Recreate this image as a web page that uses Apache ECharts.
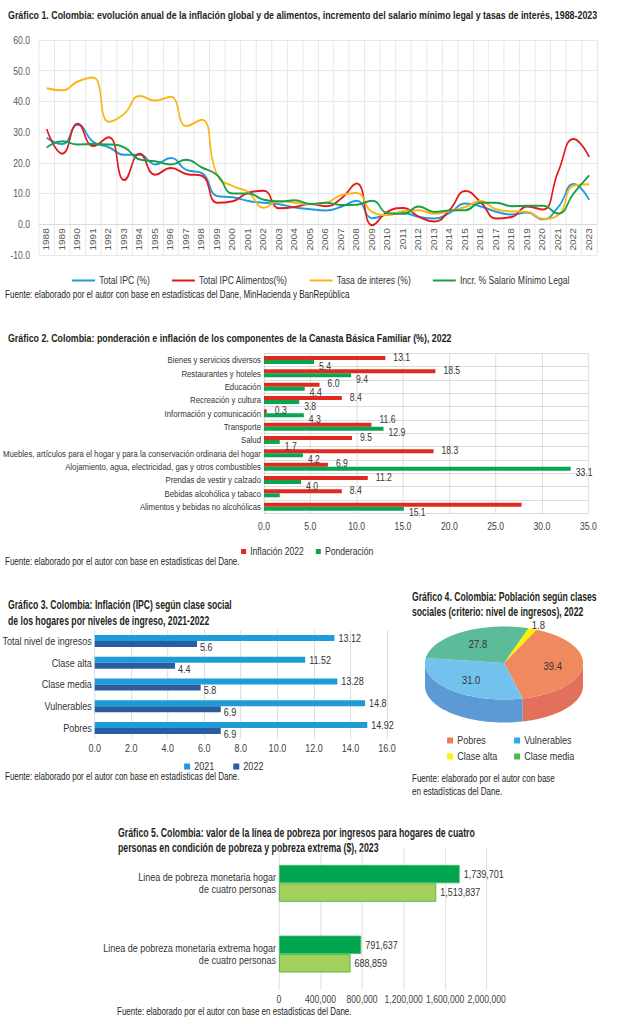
<!DOCTYPE html>
<html><head><meta charset="utf-8">
<script src="https://cdn.jsdelivr.net/npm/echarts@6.0.0/dist/echarts.min.js"></script>
<style>
html,body{margin:0;padding:0;background:#fff;overflow:hidden}
#wrap{width:617px;height:1024px;overflow:hidden;position:relative}
#c{height:1024px;transform-origin:0 0;position:absolute;left:0;top:0}
</style>
</head><body><div id="wrap"><div id="c"></div></div>
<script>
// Horizontal condensation (the reference uses a condensed typeface)
const S = 0.82;
const X = v => v / S;
const FONT = "'Liberation Sans', Arial, sans-serif";

// ---------- Gráfico 1 ----------
const years = ['1988','1989','1990','1991','1992','1993','1994','1995','1996','1997','1998','1999','2000','2001','2002','2003','2004','2005','2006','2007','2008','2009','2010','2011','2012','2013','2014','2015','2016','2017','2018','2019','2020','2021','2022','2023'];
const ipcTotal      = [28.1,26.1,32.4,26.8,25.1,22.6,22.6,19.5,21.6,17.7,16.7,9.2,8.8,7.6,7.0,6.5,5.5,4.9,4.5,5.7,7.7,2.0,3.2,3.7,2.4,1.9,3.7,6.8,5.8,4.1,3.2,3.8,1.6,5.6,13.1,7.9];
const ipcAlimentos  = [31.0,23.0,32.7,25.5,28.3,14.4,23.0,16.1,18.3,16.4,15.8,7.0,7.5,10.3,10.9,5.2,5.6,6.6,5.9,8.4,13.3,-0.3,4.1,5.3,2.5,0.9,4.7,10.8,7.2,1.9,2.4,5.8,4.8,17.2,27.8,21.9];
const tasaInteres   = [44.3,43.6,46.5,47.8,33.4,36.0,41.8,40.3,41.5,32.0,34.0,16.0,12.4,10.5,5.4,7.6,7.0,6.5,7.0,9.5,10.2,4.0,3.0,4.3,4.6,3.4,4.3,5.6,7.6,4.9,4.2,4.1,1.8,3.0,12.6,13.0];
const salarioMinimo = [25.0,27.0,26.0,26.1,26.0,25.0,21.1,20.5,19.5,21.0,18.5,16.0,10.0,10.0,8.0,7.4,7.8,6.6,7.0,6.3,6.4,7.7,3.6,3.4,5.8,4.0,4.5,4.6,7.0,7.0,5.9,6.0,6.0,3.5,10.1,16.0];
const yMin1 = -10, yMax1 = 60;

// ---------- Gráfico 2 ----------
const cats2 = ['Bienes y servicios diversos','Restaurantes y hoteles','Educación','Recreación y cultura','Información y comunicación','Transporte','Salud','Muebles, artículos para el hogar y para la conservación ordinaria del hogar','Alojamiento, agua, electricidad, gas y otros combustibles','Prendas de vestir y calzado','Bebidas alcohólica y tabaco','Alimentos y bebidas no alcohólicas'];
const inflacion2022 = [13.1,18.5,6.0,8.4,0.3,11.6,9.5,18.3,6.9,11.2,8.4,27.8];
const ponderacion   = [5.4,9.4,4.4,3.8,4.3,12.9,1.7,4.2,33.1,4.0,1.7,15.1];
const sinEtiquetaInfl = ['Alimentos y bebidas no alcohólicas'];
const sinEtiquetaPond = ['Bebidas alcohólica y tabaco'];
const etiquetaArriba  = ['Transporte'];

// ---------- Gráfico 3 ----------
const cats3 = ['Total nivel de ingresos','Clase alta','Clase media','Vulnerables','Pobres'];
const ipc2021 = [13.12,11.52,13.28,14.8,14.92];
const ipc2022 = [5.6,4.4,5.8,6.9,6.9];

// ---------- Gráfico 4 ----------
const clases    = ['Pobres','Vulnerables','Clase alta','Clase media'];
const poblacion = [39.4,31.0,1.8,27.8];
const ordenTorta = ['Clase alta','Pobres','Vulnerables','Clase media'];

// ---------- Gráfico 5 ----------
const cats5 = ['Linea de pobreza monetaria hogar\nde cuatro personas','Linea de pobreza monetaria extrema hogar\nde cuatro personas'];
const lineaA = [1739701, 791637];
const lineaB = [1513837, 688859];

// ---------- styles ----------
const C1 = {ipc:'#1E9BDC', alim:'#E3191F', tasa:'#FDB515', sal:'#1A9F48'};
const C2 = {infl:'#E02A20', pond:'#0AA551'};
const C3 = {a:'#1F9CD8', b:'#2A5CA0'};
const PIE = {cx:X(504), cy:663, rx:X(79), ry:36.5, depth:23, start:-72};
const pieStyle = {
  'Pobres':      {top:'#EF8A5E', side:'#E3705A', legend:'#EE7D4F'},
  'Vulnerables': {top:'#73C2EE', side:'#5B9AD4', legend:'#2AABE2'},
  'Clase alta':  {top:'#FFF200', side:'#E6D800', legend:'#FFF200'},
  'Clase media': {top:'#5CBC9A', side:'#2CA489', legend:'#4DB848'}
};
const C5 = {a:'#00A551', aB:'#4DBA5C', b:'#A5CF5C', bB:'#4DB848'};
const AX = '#404040', GRID = '#d9d9d9', TXT = '#231F20';

const el = document.getElementById('c');
el.style.width = X(617) + 'px';
el.style.transform = 'scaleX(' + S + ')';

const G1 = {top:40, height:215};
const pieTotal = poblacion.reduce((a,b)=>a+b,0);
const pieData = ordenTorta.map(n => ({name:n, value: poblacion[clases.indexOf(n)]}));
const cumStart = []; (function(){let acc=0; pieData.forEach(d=>{cumStart.push(acc); acc+=d.value;});})();
function ept(a, dy, k){ const r=a*Math.PI/180; k=k||1; return [PIE.cx+k*PIE.rx*Math.cos(r), PIE.cy+k*PIE.ry*Math.sin(r)+(dy||0)]; }
function earc(a0,a1,dy){ const pts=[]; const n=Math.max(2,Math.ceil(Math.abs(a1-a0))); for(let j=0;j<=n;j++) pts.push(ept(a0+(a1-a0)*j/n,dy)); return pts; }

const mctx = document.createElement('canvas').getContext('2d');
function measure(t,size,weight){ mctx.font = (weight||'normal')+' '+size+'px '+FONT; return mctx.measureText(t).width; }
function txt(x,y,t,size,weight,targetW,scaleRef){
  let sc = 1;
  if (targetW) sc = X(targetW) / measure(scaleRef||t, size, weight);
  return {type:'text', x:X(x), y:y, scaleX:sc, style:{text:t, fill:TXT, fontSize:size, fontWeight:weight||'normal', fontFamily:FONT, verticalAlign:'middle', align:'left'}};
}
const lineSeries = (name, data, color) => ({type:'line', name, data, xAxisIndex:0, yAxisIndex:0, smooth:true, symbol:'none', lineStyle:{width:2, color}, itemStyle:{color}});
const lt = size => ({fontSize:size, color:'#333', fontFamily:FONT});

const s4a = 'Fuente: elaborado por el autor con base';
const option = {
  animation:false,
  textStyle:{fontFamily:FONT},
  graphic:[
    txt(8,15,'Gráfico 1. Colombia: evolución anual de la inflación global y de alimentos, incremento del salario mínimo legal y tasas de interés, 1988-2023',11.5,'bold',590),
    txt(5,295,'Fuente: elaborado por el autor con base en estadísticas del Dane, MinHacienda y BanRepública',10,'normal',345),
    txt(8,338,'Gráfico 2. Colombia: ponderación e inflación de los componentes de la Canasta Básica Familiar (%), 2022',11.5,'bold',444),
    txt(5,562,'Fuente: elaborado por el autor con base en estadísticas del Dane.',10,'normal',235),
    txt(8,604,'Gráfico 3. Colombia: Inflación (IPC) según clase social',12.5,'bold',224),
    txt(8,620,'de los hogares por niveles de ingreso, 2021-2022',12.5,'bold',224,'Gráfico 3. Colombia: Inflación (IPC) según clase social'),
    txt(5,777,'Fuente: elaborado por el autor con base en estadísticas del Dane.',10,'normal',235),
    txt(412,597,'Gráfico 4. Colombia: Población según clases',12,'bold',185),
    txt(412,612,'sociales (criterio: nivel de ingresos), 2022',12,'bold',185,'Gráfico 4. Colombia: Población según clases'),
    txt(412,779,s4a,10,'normal',143),
    txt(412,792,'en estadísticas del Dane.',10,'normal',143,s4a),
    txt(118,832,'Gráfico 5. Colombia: valor de la línea de pobreza por ingresos para hogares de cuatro',12,'bold',357),
    txt(118,847,'personas en condición de pobreza y pobreza extrema ($), 2023',12,'bold',357,'Gráfico 5. Colombia: valor de la línea de pobreza por ingresos para hogares de cuatro'),
    txt(117,1012,'Fuente: elaborado por el autor con base en estadísticas del Dane.',10,'normal',235)
  ],
  grid:[
    {left:X(39), top:G1.top, width:X(558), height:G1.height},
    {left:X(259.5), top:353.3, width:X(328.8), height:160},
    {left:X(88), top:630, width:X(299), height:109},
    {left:X(279), top:848, width:X(207.7), height:141.4}
  ],
  legend:[
    {left:X(68), top:270, icon:'rect', itemWidth:X(23), itemHeight:2, itemGap:X(22), data:['Total IPC (%)','Total IPC Alimentos(%)','Tasa de interes (%)','Incr. % Salario Mínimo Legal'], textStyle:lt(10.5)},
    {left:X(237), top:541, icon:'rect', itemWidth:X(5), itemHeight:5, itemGap:X(12), data:['Inflación 2022','Ponderación'], textStyle:lt(10.5)},
    {left:X(180), top:756, icon:'rect', itemWidth:X(6), itemHeight:6, itemGap:X(19), data:['2021','2022'], textStyle:lt(11)},
    {left:X(443), top:730, icon:'rect', itemWidth:X(6), itemHeight:6, data:['Pobres'], textStyle:lt(11)},
    {left:X(510), top:730, icon:'rect', itemWidth:X(6), itemHeight:6, data:['Vulnerables'], textStyle:lt(11)},
    {left:X(443), top:746, icon:'rect', itemWidth:X(6), itemHeight:6, data:['Clase alta'], textStyle:lt(11)},
    {left:X(510), top:746, icon:'rect', itemWidth:X(6), itemHeight:6, data:['Clase media'], textStyle:lt(11)}
  ],
  xAxis:[
    {type:'category', gridIndex:0, data:years, boundaryGap:true,
     // axis drawn at the zero value (as in the reference)
     offset: -G1.height * (0 - yMin1) / (yMax1 - yMin1),
     axisLine:{onZero:false, lineStyle:{color:GRID}}, axisTick:{show:false},
     axisLabel:{rotate:90, interval:0, fontSize:10, color:'#595959', margin:4, fontFamily:FONT},
     splitLine:{show:true, interval:0, lineStyle:{color:'#e6e6e6'}}},
    {type:'value', gridIndex:1, min:0, max:35, interval:5,
     axisLine:{show:false}, axisTick:{show:false},
     axisLabel:{fontSize:10.5, color:AX, margin:7, formatter:v=>v.toFixed(1), fontFamily:FONT, showMaxLabel:true},
     splitLine:{lineStyle:{color:GRID}}},
    {type:'value', gridIndex:2, min:0, max:16, interval:2,
     axisLine:{show:false}, axisTick:{show:false},
     axisLabel:{fontSize:11, color:AX, margin:4, formatter:v=>v.toFixed(1), fontFamily:FONT, showMaxLabel:true},
     splitLine:{lineStyle:{color:GRID}}},
    {type:'value', gridIndex:3, min:0, max:2000000, interval:400000,
     axisLine:{show:false}, axisTick:{show:false},
     axisLabel:{fontSize:10.5, color:AX, margin:4, formatter:v=>v.toLocaleString('en-US'), fontFamily:FONT, showMaxLabel:true, showMinLabel:true, hideOverlap:false},
     splitLine:{lineStyle:{color:GRID}}}
  ],
  yAxis:[
    {type:'value', gridIndex:0, min:yMin1, max:yMax1, interval:10,
     axisLine:{show:false}, axisTick:{show:false},
     axisLabel:{fontSize:10.5, color:'#595959', margin:X(9), formatter:v=>v.toFixed(1), fontFamily:FONT},
     splitLine:{lineStyle:{color:'#e6e6e6'}}},
    {type:'category', gridIndex:1, data:cats2, inverse:true,
     axisLine:{show:true, lineStyle:{color:GRID}}, axisTick:{show:false},
     axisLabel:{fontSize:9.5, color:'#333', margin:X(3), interval:0, fontFamily:FONT},
     splitLine:{show:true, interval:0, lineStyle:{color:GRID}}},
    {type:'category', gridIndex:2, data:cats3, inverse:true,
     axisLine:{show:false}, axisTick:{show:false},
     axisLabel:{fontSize:11, color:'#333', margin:X(3), interval:0, fontFamily:FONT},
     splitLine:{show:false}},
    {type:'category', gridIndex:3, data:cats5, inverse:true,
     axisLine:{show:false}, axisTick:{show:false},
     axisLabel:{fontSize:11, color:'#333', margin:X(3), interval:0, align:'right', lineHeight:12.5, fontFamily:FONT},
     splitLine:{show:false}}
  ],
  series:[
    lineSeries('Total IPC (%)', ipcTotal, C1.ipc),
    lineSeries('Total IPC Alimentos(%)', ipcAlimentos, C1.alim),
    lineSeries('Tasa de interes (%)', tasaInteres, C1.tasa),
    lineSeries('Incr. % Salario Mínimo Legal', salarioMinimo, C1.sal),

    {type:'bar', name:'Inflación 2022', xAxisIndex:1, yAxisIndex:1, barWidth:4, barGap:'0%',
     itemStyle:{color:C2.infl},
     data: inflacion2022.map((v,i)=>({value:v, label:{show: sinEtiquetaInfl.indexOf(cats2[i])<0,
       offset: etiquetaArriba.indexOf(cats2[i])>=0 ? [0,-5] : [0,-1]}})),
     label:{show:true, position:'right', distance:X(8), fontSize:10.5, color:'#333', fontFamily:FONT, formatter:p=>p.value.toFixed(1)}},
    {type:'bar', name:'Ponderación', xAxisIndex:1, yAxisIndex:1, barWidth:4, barGap:'0%',
     itemStyle:{color:C2.pond},
     data: ponderacion.map((v,i)=>({value:v, label:{show: sinEtiquetaPond.indexOf(cats2[i])<0}})),
     label:{show:true, position:'right', distance:X(5), offset:[0,4], fontSize:10.5, color:'#333', fontFamily:FONT, formatter:p=>p.value.toFixed(1)}},

    {type:'bar', name:'2021', xAxisIndex:2, yAxisIndex:2, barWidth:6, barGap:'0%',
     itemStyle:{color:C3.a}, data:ipc2021,
     label:{show:true, position:'right', distance:X(4), fontSize:11, color:'#333', fontFamily:FONT}},
    {type:'bar', name:'2022', xAxisIndex:2, yAxisIndex:2, barWidth:6, barGap:'0%',
     itemStyle:{color:C3.b}, data:ipc2022,
     label:{show:true, position:'right', distance:X(3), offset:[0,3], fontSize:11, color:'#333', fontFamily:FONT}},

    {type:'custom', name:'torta', coordinateSystem:'none', silent:true, data:pieData,
     renderItem:function(params, api){
       const i=params.dataIndex, d=pieData[i];
       const a0=PIE.start+cumStart[i]/pieTotal*360, a1=a0+d.value/pieTotal*360;
       const st=pieStyle[d.name]; const ch=[];
       [-360,0,360].forEach(k=>{ const lo=Math.max(a0,k), hi=Math.min(a1,k+180);
         if(hi>lo) ch.push({type:'polygon', z2:1, shape:{points:earc(lo,hi,0).concat(earc(hi,lo,PIE.depth))}, style:{fill:st.side}}); });
       ch.push({type:'polygon', z2:2, shape:{points:[[PIE.cx,PIE.cy]].concat(earc(a0,a1,0))}, style:{fill:st.top}});
       const mid=(a0+a1)/2*Math.PI/180, frac=d.value/pieTotal;
       const p = frac<0.05 ? [PIE.cx+1.2*PIE.rx*Math.cos(mid), PIE.cy+1.12*PIE.ry*Math.sin(mid)]
                           : [PIE.cx+0.62*PIE.rx*Math.cos(mid), PIE.cy+0.62*PIE.ry*Math.sin(mid)];
       ch.push({type:'text', z2:3, x:p[0], y:p[1], style:{text:d.value.toFixed(1), fill:'#333', fontSize:11.5, fontFamily:FONT, align:'center', verticalAlign:'middle'}});
       return {type:'group', children:ch};
     }},
    {type:'pie', name:'leyenda', center:[-300,-300], radius:[0,1], silent:true,
     label:{show:false}, labelLine:{show:false},
     data: clases.map((n,i)=>({name:n, value:poblacion[i], itemStyle:{color:pieStyle[n].legend}}))},

    {type:'bar', name:'Serie A', xAxisIndex:3, yAxisIndex:3, barWidth:18.5, barGap:'0%',
     itemStyle:{color:C5.a, borderColor:C5.aB, borderWidth:1}, data:lineaA,
     label:{show:true, position:'right', distance:X(4), fontSize:11, color:'#333', fontFamily:FONT, formatter:p=>p.value.toLocaleString('en-US')}},
    {type:'bar', name:'Serie B', xAxisIndex:3, yAxisIndex:3, barWidth:18.5, barGap:'0%',
     itemStyle:{color:C5.b, borderColor:C5.bB, borderWidth:1}, data:lineaB,
     label:{show:true, position:'right', distance:X(4), fontSize:11, color:'#333', fontFamily:FONT, formatter:p=>p.value.toLocaleString('en-US')}}
  ]
};
const chart = echarts.init(el, null, {renderer:'svg'});
chart.setOption(option);
</script></body></html>
